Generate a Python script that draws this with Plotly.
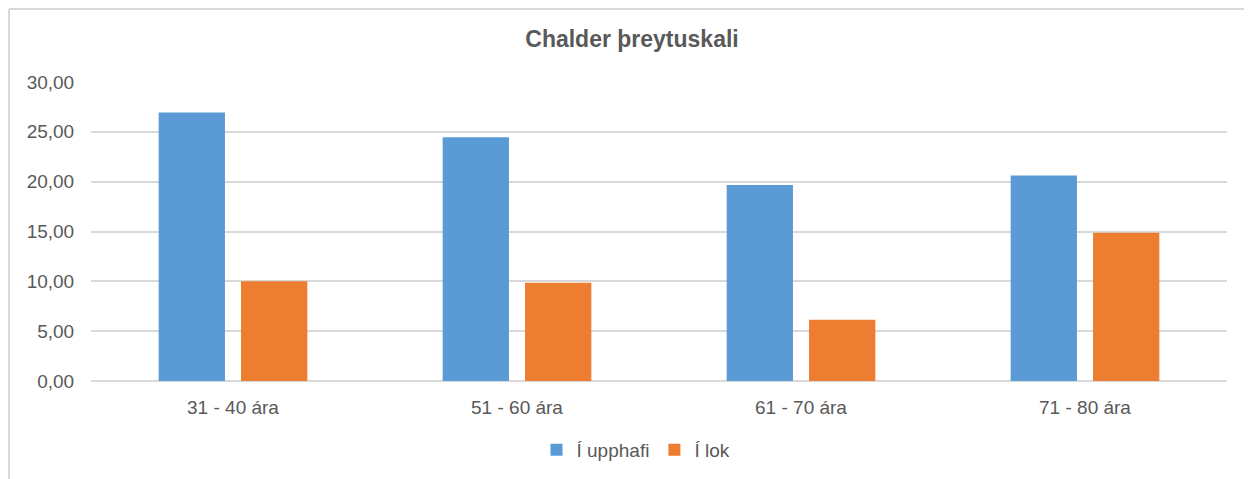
import plotly.graph_objects as go

categories = ["31 - 40 ára", "51 - 60 ára", "61 - 70 ára", "71 - 80 ára"]
upphafi = [26.95, 24.45, 19.66, 20.63]
lok = [10.0, 9.86, 6.15, 14.87]
series_names = ["Í upphafi", "Í lok"]
title_text = "Chalder þreytuskali"

FONT = "Liberation Sans, Arial, sans-serif"
GRAY = "#595959"

fig = go.Figure()
fig.add_trace(go.Bar(x=categories, y=upphafi, name=series_names[0],
                     marker=dict(color="#5B9BD5", line=dict(width=0))))
fig.add_trace(go.Bar(x=categories, y=lok, name=series_names[1],
                     marker=dict(color="#ED7D31", line=dict(width=0))))

W, H = 1252, 479
OFF = 8  # page body margin offset
# plot area in screen pixels
SX0, SX1, SY0, SY1 = 91, 1227, 82, 381
L = SX0 - OFF
R = W - (SX1 - OFF)
T = SY0 - OFF
B = H - (SY1 - OFF)
pw, ph = SX1 - SX0, SY1 - SY0

def px_x(p):
    return (p - SX0) / pw

def px_y(p):
    return (SY1 - p) / ph

fig.update_layout(
    width=W, height=H,
    margin=dict(l=L, r=R, t=T, b=B),
    paper_bgcolor="white", plot_bgcolor="white",
    separators=", ",
    barmode="group", bargap=0.42, bargroupgap=0.195,
    font=dict(family=FONT, size=19, color=GRAY),
    title=dict(text="<b>" + title_text + "</b>", x=(632 - OFF) / W, xanchor="center",
               y=1 - (39 - OFF) / H, yanchor="middle", yref="container",
               font=dict(family=FONT, size=23, color=GRAY)),
    legend=dict(orientation="h", x=px_x(636), xanchor="center",
                y=px_y(450), yanchor="middle", itemwidth=30,
                font=dict(family=FONT, size=19, color=GRAY),
                bgcolor="rgba(0,0,0,0)"),
    xaxis=dict(showgrid=False, showline=False, zeroline=False,
               ticks="outside", ticklen=9, tickcolor="rgba(0,0,0,0)",
               tickfont=dict(family=FONT, size=19, color=GRAY)),
    yaxis=dict(range=[0, 30], dtick=5, tickformat=".2f",
               showgrid=True, gridcolor="#d9d9d9", gridwidth=1.5,
               zeroline=True, zerolinecolor="#d9d9d9", zerolinewidth=1.5,
               showline=False,
               ticks="outside", ticklen=12, tickcolor="rgba(0,0,0,0)",
               tickfont=dict(family=FONT, size=19, color=GRAY)),
    showlegend=True,
)

# chart area border (top and left visible in reference)
fig.add_shape(type="line", xref="paper", yref="paper",
              x0=px_x(OFF + 1), x1=px_x(1270), y0=px_y(OFF + 1), y1=px_y(OFF + 1),
              line=dict(color="#d9d9d9", width=2))
fig.add_shape(type="line", xref="paper", yref="paper",
              x0=px_x(OFF + 1), x1=px_x(OFF + 1), y0=px_y(OFF + 1), y1=px_y(500),
              line=dict(color="#d9d9d9", width=2))

fig.write_html("out.html")
